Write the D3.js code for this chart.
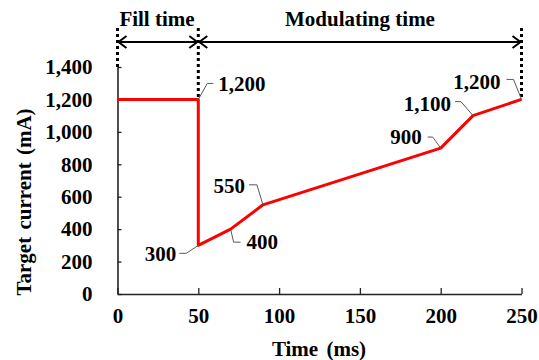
<!DOCTYPE html>
<html>
<head>
<meta charset="utf-8">
<script src="https://cdn.jsdelivr.net/npm/d3@7"></script>
<style>
  html, body { margin: 0; padding: 0; background: #fff; }
  svg { display: block; font-family: "Liberation Serif", "Times New Roman", serif; font-weight: bold; }
</style>
</head>
<body>
<svg id="chart" width="539" height="360"></svg>
<script>
// data
const times = [0, 50, 50, 70, 90, 200, 220, 250];
const currents = [1200, 1200, 300, 400, 550, 900, 1100, 1200];
const xTicks = [0, 50, 100, 150, 200, 250];
const yTicks = [0, 200, 400, 600, 800, 1000, 1200, 1400];

// value labels: which point, and where the text sits relative to it
const labelIndex = [1, 2, 3, 4, 5, 6, 7];
const labelText = ["1,200", "300", "400", "550", "900", "1,100", "1,200"];

// time spans shown above the plot
const spanStart = [0, 50];
const spanEnd = [50, 250];
const spanName = ["Fill time", "Modulating time"];

const svg = d3.select("#chart");
const font = 21;

const x = d3.scaleLinear().domain([0, 250]).range([117.5, 521.5]);
const y = d3.scaleLinear().domain([0, 1400]).range([294, 67]);

// axes
const xAxis = d3.axisBottom(x).tickValues(xTicks).tickSizeInner(-6).tickSizeOuter(0).tickPadding(14);
const yAxis = d3.axisLeft(y).tickValues(yTicks).tickSizeInner(-4).tickSizeOuter(0).tickPadding(25).tickFormat(d3.format(","));

const gx = svg.append("g").attr("transform", `translate(0,${y(0)})`).call(xAxis);
const gy = svg.append("g").attr("transform", `translate(${x(0)},0)`).call(yAxis);

[gx, gy].forEach((g) => {
  g.select(".domain").attr("stroke", "#222").attr("stroke-width", 1.6);
  g.selectAll(".tick line").attr("stroke", "#222").attr("stroke-width", 1.3);
  g.selectAll(".tick text")
    .attr("fill", "#000")
    .style("font-family", "Liberation Serif, serif")
    .style("font-weight", "bold")
    .style("font-size", font + "px");
});
gx.selectAll(".tick text").attr("dy", "0.71em");
gy.selectAll(".tick text").attr("x", -25);

svg.append("text")
  .attr("x", 319).attr("y", 356)
  .attr("text-anchor", "middle")
  .style("font-size", font + "px")
  .style("word-spacing", "3px")
  .text("Time (ms)");

svg.append("text")
  .attr("transform", "translate(31,202) rotate(-90)")
  .attr("text-anchor", "middle")
  .style("font-size", font + "px")
  .style("word-spacing", "2px")
  .text("Target current (mA)");

// dotted guides
const guideTimes = [0, 50, 250];
svg.append("g").selectAll("line")
  .data(guideTimes)
  .join("line")
  .attr("x1", (d) => x(d))
  .attr("x2", (d) => x(d))
  .attr("y1", 28)
  .attr("y2", (d) => (d === 0 ? y(1400) : y(1200)))
  .attr("stroke", "#000")
  .attr("stroke-width", 3)
  .attr("stroke-dasharray", "3,3");

// span arrows
const arrowY = 42;
const spans = spanStart.map((s, i) => ({ s, e: spanEnd[i], name: spanName[i] }));
const spanG = svg.append("g");
spans.forEach((d, i) => {
  spanG.append("line")
    .attr("x1", x(d.s)).attr("x2", x(d.e))
    .attr("y1", arrowY).attr("y2", arrowY)
    .attr("stroke", "#000").attr("stroke-width", 2);
  const heads = i === 0 ? [[x(d.s), 1], [x(d.e), -1]] : [[x(d.s), 1], [x(d.e), -1]];
  heads.forEach(([hx, dir]) => {
    spanG.append("path")
      .attr("d", `M${hx + dir * 9},${arrowY - 6} L${hx + dir * 1},${arrowY} L${hx + dir * 9},${arrowY + 6}`)
      .attr("fill", "none")
      .attr("stroke", "#000")
      .attr("stroke-width", 2);
  });
  spanG.append("text")
    .attr("x", i === 0 ? 157 : 360)
    .attr("y", 26)
    .attr("text-anchor", "middle")
    .style("font-size", font + "px")
    .text(d.name);
});

// red series
const points = times.map((t, i) => ({ t, c: currents[i] }));
svg.append("path")
  .datum(points)
  .attr("d", d3.line().x((d) => x(d.t)).y((d) => y(d.c)))
  .attr("fill", "none")
  .attr("stroke", "#ff0000")
  .attr("stroke-width", 3)
  .attr("stroke-linejoin", "round");

// value labels with leader lines
// [text anchor dx, dy, elbow dx, dy, end dx]
const labelLayout = [
  { tx: 20, ty: -16, anchor: "start", leader: [[9, -16], [15, -16]] },
  { tx: -22, ty: 8, anchor: "end", leader: [[-12, 8], [-19, 8]] },
  { tx: 16, ty: 13, anchor: "start", leader: [[3, 13], [10, 13]] },
  { tx: -18, ty: -19, anchor: "end", leader: [[-6, -20], [-14, -20]] },
  { tx: -19, ty: -11, anchor: "end", leader: [[-8, -11], [-13, -11]] },
  { tx: -22, ty: -12, anchor: "end", leader: [[-12, -14], [-18, -14]] },
  { tx: -21, ty: -18, anchor: "end", leader: [[-8, -20], [-15, -20]] },
];

const labelG = svg.append("g");
labelIndex.forEach((pi, i) => {
  const px = x(times[pi]);
  const py = y(currents[pi]);
  const lay = labelLayout[i];
  labelG.append("path")
    .attr("d", `M${px},${py} L${px + lay.leader[0][0]},${py + lay.leader[0][1]} L${px + lay.leader[1][0]},${py + lay.leader[1][1]}`)
    .attr("fill", "none")
    .attr("stroke", "#595959")
    .attr("stroke-width", 1);
  labelG.append("text")
    .attr("x", px + lay.tx)
    .attr("y", py + lay.ty)
    .attr("dy", "0.35em")
    .attr("text-anchor", lay.anchor)
    .style("font-size", font + "px")
    .text(labelText[i]);
});
</script>
</body>
</html>
